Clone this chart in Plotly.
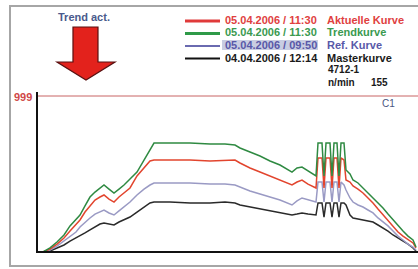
import plotly.graph_objects as go

# ---- data (time index 0..380, value 0..999) ----
t = [6, 13, 20, 27, 33, 39, 43, 48, 53, 58, 63, 67, 72, 77, 82, 87, 93, 100, 107, 113, 117,
     133, 153, 173, 188, 198,
     203, 213, 223, 233, 243, 255, 260, 265, 271,
     279, 281, 285, 287, 289, 293, 295, 297, 300, 302, 304, 307, 309,
     313, 316, 321, 326, 331, 336, 341, 346, 351, 356, 361, 366, 371, 376, 379]

trendkurve = [0, 26, 64, 109, 167, 205, 237, 295, 352, 384, 410, 429, 403, 378, 403, 429, 467, 512, 589, 653, 698,
              698, 698, 692, 692, 685,
              666, 640, 615, 583, 557, 512, 538, 544, 519,
              487, 698, 698, 487, 698, 698, 487, 698, 698, 487, 698, 698, 525,
              500, 461, 442, 410, 378, 352, 314, 282, 243, 205, 167, 134, 102, 77, 32]

aktuelle = [0, 19, 51, 90, 134, 173, 205, 256, 295, 333, 352, 365, 339, 320, 352, 378, 410, 487, 538, 583, 589,
            589, 589, 583, 589, 589,
            570, 538, 512, 487, 461, 429, 448, 461, 435,
            410, 602, 602, 410, 602, 602, 410, 602, 602, 410, 602, 589, 461,
            448, 423, 403, 378, 346, 314, 275, 237, 199, 160, 128, 102, 77, 58, 26]

ref_kurve = [0, 13, 38, 70, 102, 128, 160, 192, 218, 243, 256, 269, 250, 237, 263, 288, 320, 365, 403, 429, 442,
             442, 442, 435, 435, 429,
             416, 391, 371, 352, 333, 301, 327, 346, 333,
             320, 448, 448, 320, 448, 448, 320, 448, 448, 320, 448, 429, 397,
             346, 320, 301, 288, 269, 250, 218, 192, 167, 134, 102, 77, 51, 32, 13]

masterkurve = [0, 6, 26, 45, 70, 90, 102, 122, 141, 160, 179, 186, 179, 173, 192, 205, 224, 256, 288, 314, 320,
               320, 314, 314, 320, 314,
               301, 288, 275, 263, 250, 237, 243, 250, 243,
               237, 314, 314, 224, 314, 314, 224, 314, 314, 224, 314, 314, 301,
               237, 218, 211, 205, 199, 192, 173, 154, 134, 109, 90, 70, 51, 26, 6]

series_names = ["Masterkurve", "Ref. Kurve", "Aktuelle Kurve", "Trendkurve"]
series_vals = [masterkurve, ref_kurve, aktuelle, trendkurve]
series_colors = ["#2a2a2a", "#9a9ac4", "#e2452e", "#2f8a42"]

legend_dates = ["05.04.2006 / 11:30", "05.04.2006 / 11:30", "05.04.2006 / 09:50", "04.04.2006 / 12:14"]
legend_labels = ["Aktuelle Kurve", "Trendkurve", "Ref. Kurve", "Masterkurve"]
legend_colors = ["#e04040", "#3a9a50", "#5858a8", "#1a1a1a"]
info_lines = ["4712-1", "n/min", "155"]
ymax_label = "999"
channel_label = "C1"
header_label = "Trend act."

W, H = 418, 269
ML, MR, MT, MB = 37, 1, 96, 17
PW, PH = W - ML - MR, H - MT - MB


def px(x):
    return (x - ML) / PW


def py(y):
    return (H - MB - y) / PH


fig = go.Figure()
for name, vals, col in zip(series_names, series_vals, series_colors):
    fig.add_trace(go.Scatter(x=t, y=vals, mode="lines", name=name,
                             line=dict(color=col, width=1.5), hoverinfo="skip"))

shapes = []
# outer frame (right edge runs off the picture)
shapes.append(dict(type="rect", xref="paper", yref="paper", x0=px(10), x1=px(440), y0=py(266), y1=py(6),
                   line=dict(color="#a6a6a6", width=2), fillcolor="rgba(0,0,0,0)", layer="above"))
# top red limit line
shapes.append(dict(type="line", xref="paper", yref="paper", x0=px(37), x1=px(419), y0=py(96), y1=py(96),
                   line=dict(color="#c86464", width=1)))
# axes
shapes.append(dict(type="line", xref="paper", yref="paper", x0=px(37), x1=px(37), y0=py(253), y1=py(92),
                   line=dict(color="#111111", width=2)))
shapes.append(dict(type="line", xref="paper", yref="paper", x0=px(36), x1=px(419), y0=py(252), y1=py(252),
                   line=dict(color="#111111", width=2)))
# red arrow
arrow_pts = [(73, 27), (98, 27), (98, 62), (115, 62), (86, 80), (57, 62), (73, 62)]
path = "M " + " L ".join(f"{px(a):.4f},{py(b):.4f}" for a, b in arrow_pts) + " Z"
shapes.append(dict(type="path", xref="paper", yref="paper", path=path,
                   fillcolor="#e3221c", line=dict(color="#5a1010", width=1.2)))
# highlight behind third date
shapes.append(dict(type="rect", xref="paper", yref="paper", x0=px(222), x1=px(318), y0=py(50), y1=py(40),
                   fillcolor="#c9cde2", line=dict(width=0), layer="below"))
# legend line samples
row_y = [20, 32.5, 45, 57.5]
line_w = [3, 3, 2, 2]
line_c = ["#e03a3a", "#2f9a48", "#6a6ab0", "#111111"]
for yy, lw, lc in zip(row_y, line_w, line_c):
    shapes.append(dict(type="line", xref="paper", yref="paper", x0=px(185), x1=px(220), y0=py(yy + 1), y1=py(yy + 1),
                       line=dict(color=lc, width=lw)))

ann = []
font_b = "Liberation Sans, Arial, sans-serif"
for yy, d, lab, c in zip(row_y, legend_dates, legend_labels, legend_colors):
    ann.append(dict(x=px(223), y=py(yy), xref="paper", yref="paper", xanchor="left", yanchor="middle",
                    text=f"<b>{d}</b>", showarrow=False, font=dict(family=font_b, size=11, color=c)))
    ann.append(dict(x=px(325), y=py(yy), xref="paper", yref="paper", xanchor="left", yanchor="middle",
                    text=f"<b>{lab}</b>", showarrow=False, font=dict(family=font_b, size=11, color=c)))
ann.append(dict(x=px(326), y=py(70), xref="paper", yref="paper", xanchor="left", yanchor="middle",
                text=f"<b>{info_lines[0]}</b>", showarrow=False, font=dict(family=font_b, size=10, color="#1a1a1a")))
ann.append(dict(x=px(326), y=py(82), xref="paper", yref="paper", xanchor="left", yanchor="middle",
                text=f"<b>{info_lines[1]}</b>", showarrow=False, font=dict(family=font_b, size=10, color="#1a1a1a")))
ann.append(dict(x=px(369), y=py(82), xref="paper", yref="paper", xanchor="left", yanchor="middle",
                text=f"<b>{info_lines[2]}</b>", showarrow=False, font=dict(family=font_b, size=10, color="#1a1a1a")))
ann.append(dict(x=px(84), y=py(17), xref="paper", yref="paper", xanchor="center", yanchor="middle",
                text=f"<b>{header_label}</b>", showarrow=False, font=dict(family=font_b, size=11, color="#4a5a8c")))
ann.append(dict(x=px(34), y=py(97), xref="paper", yref="paper", xanchor="right", yanchor="middle",
                text=f"<b>{ymax_label}</b>", showarrow=False, font=dict(family=font_b, size=11, color="#d04848")))
ann.append(dict(x=px(388), y=py(103), xref="paper", yref="paper", xanchor="center", yanchor="middle",
                text=channel_label, showarrow=False, font=dict(family=font_b, size=10, color="#4a5580")))

fig.update_layout(
    width=W, height=H,
    margin=dict(l=ML, r=MR, t=MT, b=MB, pad=0),
    paper_bgcolor="white", plot_bgcolor="white",
    showlegend=False,
    xaxis=dict(range=[0, 380], visible=False, fixedrange=True),
    yaxis=dict(range=[0, 999], visible=False, fixedrange=True),
    shapes=shapes, annotations=ann,
)

fig.write_html("out.html", config={"displayModeBar": False},
               post_script="document.body.style.margin='0px';document.body.style.padding='0px';")
